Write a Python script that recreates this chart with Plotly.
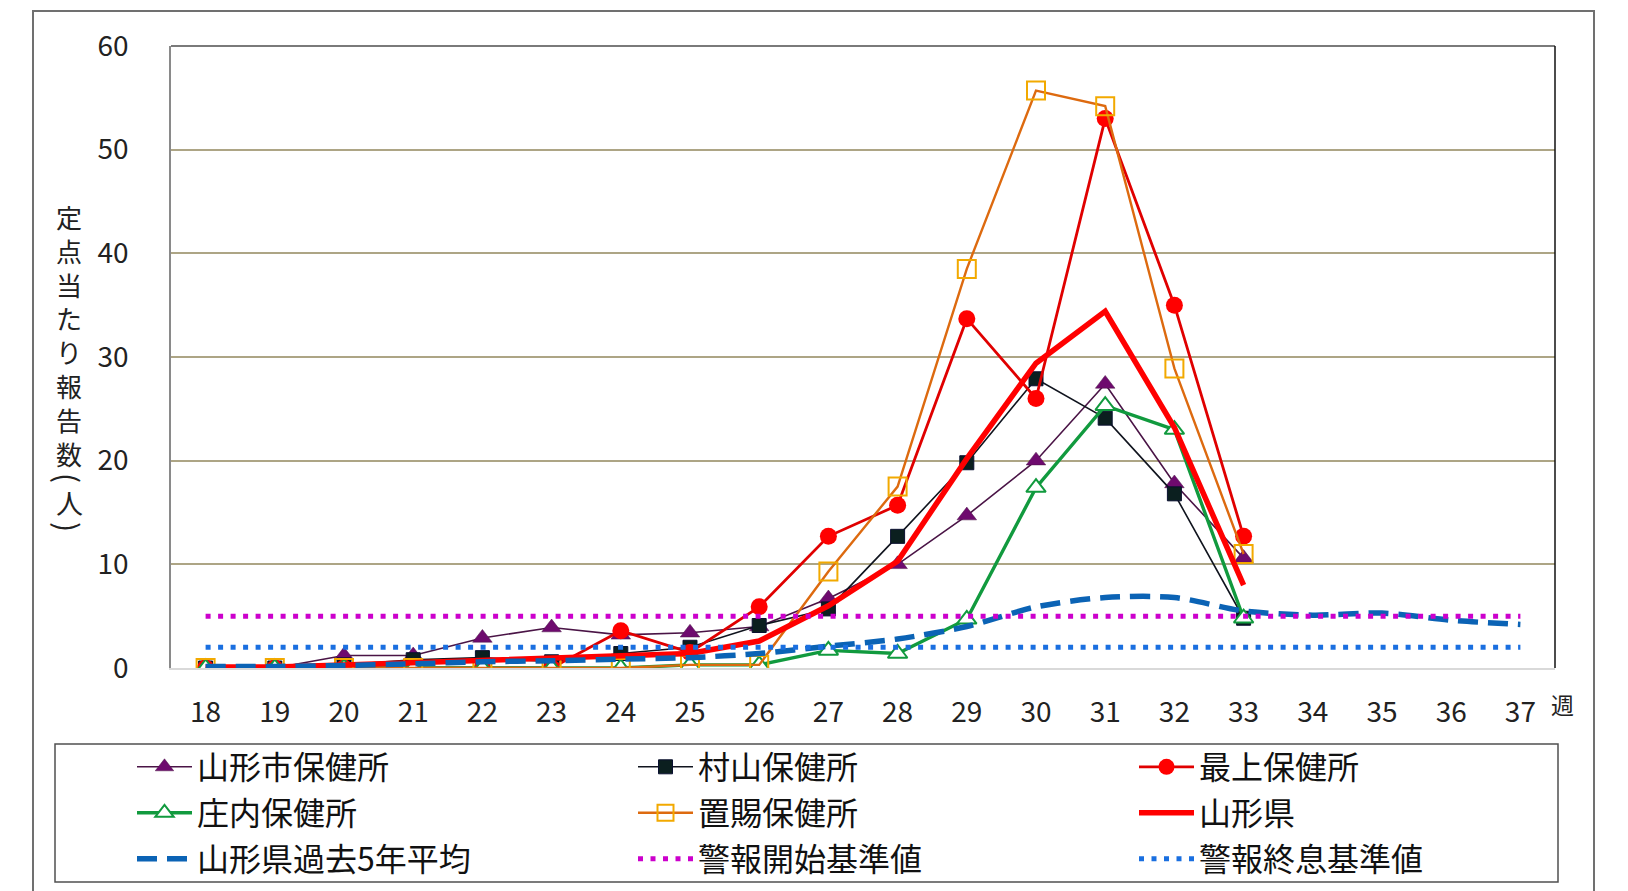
import plotly.graph_objects as go

# ---------------- data ----------------
weeks = [18, 19, 20, 21, 22, 23, 24, 25, 26, 27, 28, 29, 30, 31, 32, 33, 34, 35, 36, 37]
week_labels = ["18", "19", "20", "21", "22", "23", "24", "25", "26", "27",
               "28", "29", "30", "31", "32", "33", "34", "35", "36", "37"]
obs_weeks = [18, 19, 20, 21, 22, 23, 24, 25, 26, 27, 28, 29, 30, 31, 32, 33]

yamagata_city = [0, 0, 1.2, 1.2, 2.9, 3.9, 3.2, 3.4, 4.0, 6.7, 10.0, 14.7, 20.0, 27.4, 17.8, 10.6]
murayama = [0, 0, 0.3, 0.8, 1.0, 0.6, 1.4, 2.0, 4.1, 5.7, 12.7, 19.8, 27.9, 24.1, 16.8, 4.8]
mogami = [0, 0, 0, 0, 0, 0, 3.6, 1.5, 5.9, 12.7, 15.7, 33.7, 26.0, 53.0, 35.0, 12.7]
shonai = [0, 0, 0, 0, 0, 0, 0, 0.3, 0.3, 1.7, 1.4, 4.7, 17.4, 25.3, 23.0, 4.8]
okitama = [0, 0, 0, 0, 0, 0, 0, 0.3, 0.3, 9.3, 17.5, 38.5, 55.7, 54.2, 28.9, 11.0]
prefecture = [0.1, 0.1, 0.3, 0.5, 0.7, 0.9, 1.2, 1.4, 2.6, 6.0, 10.3, 20.2, 29.4, 34.4, 23.2, 8.0]
avg_5yr = [0.15, 0.15, 0.25, 0.4, 0.6, 0.7, 0.85, 1.0, 1.4, 2.1, 2.8, 4.0, 5.9, 6.8, 6.8,
           5.5, 5.1, 5.3, 4.6, 4.2]
alarm_start = [5, 5, 5, 5, 5, 5, 5, 5, 5, 5, 5, 5, 5, 5, 5, 5, 5, 5, 5, 5]
alarm_end = [2, 2, 2, 2, 2, 2, 2, 2, 2, 2, 2, 2, 2, 2, 2, 2, 2, 2, 2, 2]

y_ticks = [0, 10, 20, 30, 40, 50, 60]
y_title_main = "定点当たり報告数"
y_title_unit = "人"
x_unit = "週"

# ---------------- layout geometry (pixels) ----------------
W, H = 1628, 891
PL, PR, PT, PB = 171, 1555, 46, 668
FONT = "Noto Sans CJK JP"


def px_x(p):
    return (p - PL) / (PR - PL)


def px_y(p):
    return (PB - p) / (PB - PT)


fig = go.Figure()

fig.add_trace(go.Scatter(
    x=obs_weeks, y=yamagata_city, name="山形市保健所", mode="lines+markers", legend="legend",
    line=dict(color="#4A1446", width=1.6),
    marker=dict(symbol="triangle-up", size=17, color="#6E0A6E",
                line=dict(color="#4A1446", width=0.5))))
fig.add_trace(go.Scatter(
    x=obs_weeks, y=murayama, name="村山保健所", mode="lines+markers", legend="legend",
    line=dict(color="#10141E", width=1.6),
    marker=dict(symbol="square", size=14, color="#0B1F1F",
                line=dict(color="#0A1030", width=1))))
fig.add_trace(go.Scatter(
    x=obs_weeks, y=mogami, name="最上保健所", mode="lines+markers", legend="legend",
    line=dict(color="#E00000", width=2.8),
    marker=dict(symbol="circle", size=17, color="#FF0000",
                line=dict(color="#FF0000", width=0))))
fig.add_trace(go.Scatter(
    x=obs_weeks, y=shonai, name="庄内保健所", mode="lines+markers", legend="legend2",
    line=dict(color="#119A3E", width=3.4),
    marker=dict(symbol="triangle-up", size=17, color="white",
                line=dict(color="#119A3E", width=2))))
fig.add_trace(go.Scatter(
    x=obs_weeks, y=okitama, name="置賜保健所", mode="lines+markers", legend="legend2",
    line=dict(color="#DD6A0F", width=2.4),
    marker=dict(symbol="square-open", size=18, color="#F2A900",
                line=dict(color="#F2A900", width=2))))
fig.add_trace(go.Scatter(
    x=obs_weeks, y=prefecture, name="山形県", mode="lines", legend="legend2",
    line=dict(color="#FF0000", width=5.5)))
fig.add_trace(go.Scatter(
    x=weeks, y=avg_5yr, name="山形県過去5年平均", mode="lines", legend="legend3",
    line=dict(color="#0B63B5", width=5.5, dash="20px,10px", shape="spline", smoothing=0.8)))
fig.add_trace(go.Scatter(
    x=weeks, y=alarm_start, name="警報開始基準値", mode="lines", legend="legend3",
    line=dict(color="#CC00CC", width=5, dash="5px,7.5px")))
fig.add_trace(go.Scatter(
    x=weeks, y=alarm_end, name="警報終息基準値", mode="lines", legend="legend3",
    line=dict(color="#1A6FE0", width=5, dash="5px,7.5px")))

shapes = [
    # outer chart border
    dict(type="rect", xref="paper", yref="paper",
         x0=px_x(33), x1=px_x(1594), y0=px_y(900), y1=px_y(11),
         line=dict(color="#707070", width=2), layer="below"),
    # plot top border
    dict(type="line", xref="paper", yref="paper",
         x0=0, x1=1, y0=1, y1=1, line=dict(color="#7A7A7A", width=2)),
    # plot right border
    dict(type="line", xref="paper", yref="paper",
         x0=1, x1=1, y0=0, y1=1, line=dict(color="#101010", width=1.5)),
    # legend box
    dict(type="rect", xref="paper", yref="paper",
         x0=px_x(55), x1=px_x(1558), y0=px_y(882), y1=px_y(744),
         line=dict(color="#505050", width=1.5)),
]

title_font = dict(family=FONT, size=26, color="#222222")
annotations = [
    # vertical (stacked) y-axis title
    dict(text="<br>".join(list(y_title_main)), xref="paper", yref="paper",
         x=px_x(69), y=px_y(196), showarrow=False, xanchor="center", yanchor="top",
         font=title_font),
    # vertical-form parentheses (rotated) around 人
    dict(text="(", xref="paper", yref="paper", x=px_x(69), y=px_y(478),
         textangle=90, showarrow=False, xanchor="center", yanchor="middle",
         font=dict(family=FONT, size=30, color="#222222")),
    dict(text=y_title_unit, xref="paper", yref="paper", x=px_x(69), y=px_y(502),
         showarrow=False, xanchor="center", yanchor="middle",
         font=dict(family=FONT, size=27, color="#222222")),
    dict(text=")", xref="paper", yref="paper", x=px_x(69), y=px_y(527),
         textangle=90, showarrow=False, xanchor="center", yanchor="middle",
         font=dict(family=FONT, size=30, color="#222222")),
    dict(text=x_unit, xref="paper", yref="paper", x=px_x(1562), y=px_y(704),
         showarrow=False, xanchor="center", yanchor="middle",
         font=dict(family=FONT, size=23, color="#222222")),
]


def row_legend(center_y):
    return dict(
        orientation="h", xref="paper", yref="paper",
        x=px_x(132), y=px_y(center_y), xanchor="left", yanchor="middle",
        entrywidth=431, entrywidthmode="pixels", itemwidth=55,
        font=dict(family=FONT, size=32, color="#111111"),
        bgcolor="rgba(0,0,0,0)", borderwidth=0, traceorder="normal")


fig.update_layout(
    width=W, height=H,
    margin=dict(l=PL, r=W - PR, t=PT, b=H - PB, pad=0, autoexpand=False),
    paper_bgcolor="white", plot_bgcolor="white",
    font=dict(family=FONT, size=28, color="#222222"),
    showlegend=True,
    legend=row_legend(767),
    legend2=row_legend(813),
    legend3=row_legend(859),
    xaxis=dict(
        range=[17.5, 37.5], tickmode="array", tickvals=weeks, ticktext=week_labels,
        showgrid=False, zeroline=False, showline=True, linecolor="#D9D9D9", linewidth=2,
        ticks="", ticklabelstandoff=18, tickfont=dict(family=FONT, size=28, color="#222222"),
        fixedrange=True),
    yaxis=dict(
        range=[0, 60], tickmode="array", tickvals=y_ticks,
        showgrid=True, gridcolor="#ADA585", gridwidth=1.5, zeroline=False,
        showline=True, linecolor="#8A8A8A", linewidth=1.5,
        ticks="", ticklabelstandoff=35, tickfont=dict(family=FONT, size=28, color="#222222"),
        fixedrange=True),
    shapes=shapes,
    annotations=annotations,
)

fig.write_html("out.html", config={"displayModeBar": False},
               post_script="document.body.style.margin='0';document.body.style.overflow='hidden';")
